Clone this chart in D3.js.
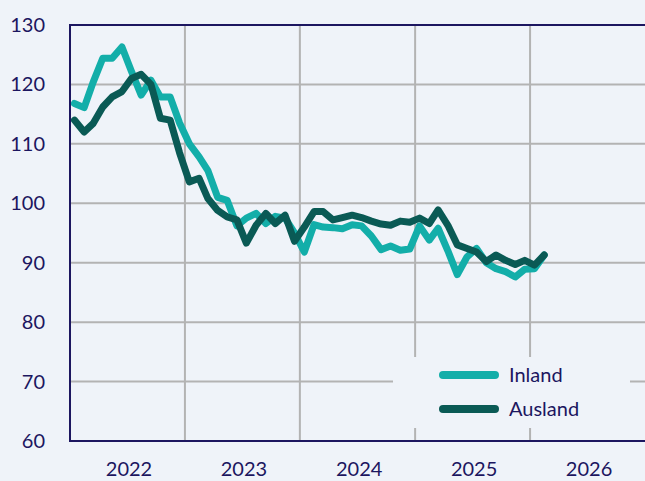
<!DOCTYPE html>
<html>
<head>
<meta charset="utf-8">
<script src="https://cdn.jsdelivr.net/npm/d3@7"></script>
<style>
  body { margin: 0; background: #eff3f9; }
  svg { display: block; font-family: "Source Sans Pro", "Lato", "Noto Sans", sans-serif; }
</style>
</head>
<body>
<div id="chart"></div>
<script>
// monthly values, Jan 2022 .. Feb 2026
var startMonth = "2022-01";
var inland = [116.8, 116.1, 120.3, 124.4, 124.4, 126.3, 122.2, 118.2, 120.7, 117.9, 117.9, 113.5,
              110.0, 107.8, 105.5, 101.0, 100.5, 96.2, 97.5, 98.3, 96.6, 97.8, 97.5, 95.0,
              91.8, 96.4, 96.0, 95.9, 95.7, 96.4, 96.2, 94.5, 92.2, 92.8, 92.1, 92.3,
              96.2, 93.8, 95.8, 92.0, 88.0, 91.0, 92.4, 90.0, 89.0, 88.5, 87.6, 88.9,
              89.0, 91.3];
var ausland = [114.0, 112.0, 113.4, 116.2, 117.9, 118.8, 121.0, 121.7, 120.0, 114.3, 114.0, 108.5,
               103.6, 104.2, 100.8, 98.8, 97.7, 97.2, 93.3, 96.3, 98.3, 96.6, 98.0, 93.6,
               96.0, 98.6, 98.6, 97.2, 97.6, 98.0, 97.6, 97.0, 96.5, 96.3, 97.0, 96.8,
               97.5, 96.6, 98.9, 96.3, 93.0, 92.4, 91.8, 90.2, 91.3, 90.4, 89.7, 90.4,
               89.6, 91.3];
var yTicks = [60, 70, 80, 90, 100, 110, 120, 130];
var years = [2022, 2023, 2024, 2025, 2026];
var seriesNames = ["Inland", "Ausland"];
var seriesColors = ["#13aea9", "#0a5a55"];

var W = 645, H = 481;
var margin = {top: 25, right: 0, bottom: 40, left: 70};
var navy = "#1c1660", grid = "#b3b3b3", bg = "#eff3f9";

var svg = d3.select("#chart").append("svg").attr("width", W).attr("height", H);
svg.append("rect").attr("width", W).attr("height", H).attr("fill", bg);

var parse = d3.timeParse("%Y-%m");
var t0 = parse(startMonth);
function monthDate(i) {
  var d = d3.timeMonth.offset(t0, i);
  return d3.timeDay.offset(d, 14);
}

var x = d3.scaleTime()
  .domain([new Date(2022, 0, 1), new Date(2027, 0, 1)])
  .range([margin.left, W - margin.right]);
var y = d3.scaleLinear().domain([60, 130]).range([H - margin.bottom, margin.top]);

// grid
svg.append("g").selectAll("line").data(yTicks.slice(1, -1)).join("line")
  .attr("x1", margin.left).attr("x2", W)
  .attr("y1", d => y(d)).attr("y2", d => y(d))
  .attr("stroke", grid).attr("stroke-width", 2);
svg.append("g").selectAll("line").data(years.slice(1)).join("line")
  .attr("x1", d => x(new Date(d, 0, 1))).attr("x2", d => x(new Date(d, 0, 1)))
  .attr("y1", margin.top).attr("y2", H - margin.bottom)
  .attr("stroke", grid).attr("stroke-width", 2);

// top border
svg.append("line").attr("x1", margin.left - 1).attr("x2", W)
  .attr("y1", y(130)).attr("y2", y(130)).attr("stroke", navy).attr("stroke-width", 2);

// y axis labels
svg.append("g").selectAll("text").data(yTicks).join("text")
  .attr("x", 45).attr("y", d => y(d)).attr("dy", "0.35em")
  .attr("text-anchor", "end").attr("fill", navy).attr("font-size", 20)
  .text(d => d);

// x axis labels, centred in each year
svg.append("g").selectAll("text").data(years).join("text")
  .attr("x", d => x(new Date(d, 6, 1)) + 2).attr("y", 476)
  .attr("text-anchor", "middle").attr("fill", navy).attr("font-size", 20)
  .text(d => d);

// lines
var line = d3.line().x((d, i) => x(monthDate(i))).y(d => y(d));
[inland, ausland].forEach(function(s, k) {
  svg.append("path").datum(s)
    .attr("d", line)
    .attr("fill", "none")
    .attr("stroke", seriesColors[k])
    .attr("stroke-width", 7)
    .attr("stroke-linejoin", "round")
    .attr("stroke-linecap", "round");
});

// legend
var lg = svg.append("g");
lg.append("rect").attr("x", 393).attr("y", 357).attr("width", 237).attr("height", 71).attr("fill", bg);
seriesNames.forEach(function(n, k) {
  var yy = 375 + k * 34;
  lg.append("line").attr("x1", 443).attr("x2", 495).attr("y1", yy).attr("y2", yy)
    .attr("stroke", seriesColors[k]).attr("stroke-width", 8).attr("stroke-linecap", "round");
  lg.append("text").attr("x", 509).attr("y", yy).attr("dy", "0.35em")
    .attr("fill", navy).attr("font-size", 20).text(n);
});

// axes lines
svg.append("line").attr("x1", margin.left).attr("x2", margin.left)
  .attr("y1", margin.top - 1).attr("y2", H - margin.bottom + 1).attr("stroke", navy).attr("stroke-width", 2);
svg.append("line").attr("x1", margin.left - 1).attr("x2", W)
  .attr("y1", H - margin.bottom).attr("y2", H - margin.bottom).attr("stroke", navy).attr("stroke-width", 2);
</script>
</body>
</html>
